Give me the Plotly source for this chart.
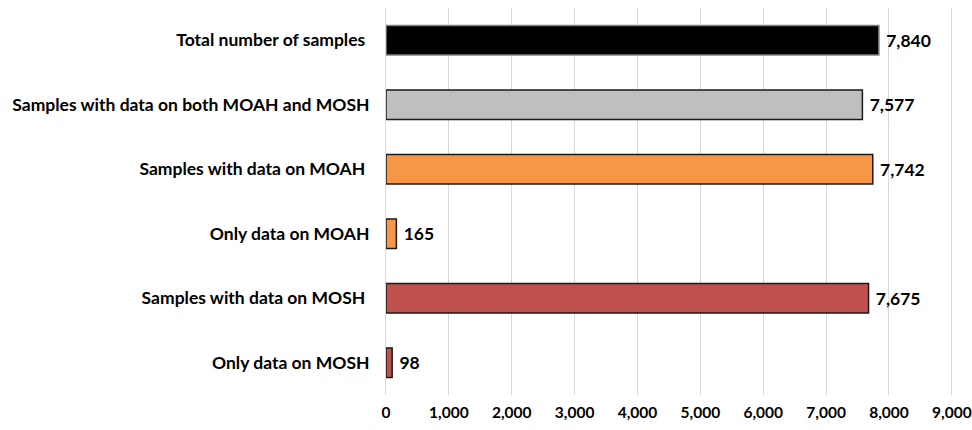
import plotly.graph_objects as go

categories = [
    "Total number of samples ",
    "Samples with data on both MOAH and MOSH",
    "Samples with data on MOAH ",
    "Only data on MOAH",
    "Samples with data on MOSH ",
    "Only data on MOSH",
]
values = [7840, 7577, 7742, 165, 7675, 98]
colors = ["#000000", "#BFBFBF", "#F79646", "#F79646", "#C0504D", "#C0504D"]
outline = ["#808080", "#1a1a1a", "#1a1a1a", "#1a1a1a", "#1a1a1a", "#1a1a1a"]
tick_vals = list(range(0, 9001, 1000))

FONT = "Lato, Calibri, Arial, sans-serif"

fig = go.Figure(
    go.Bar(
        y=categories,
        x=values,
        orientation="h",
        marker=dict(color=colors, line=dict(color=outline, width=1.5)),
        text=[f" {v:,}" for v in values],
        textposition="outside",
        textfont=dict(family=FONT, size=17.5, color="#000000", weight="bold"),
        cliponaxis=False,
    )
)

fig.update_layout(
    width=972,
    height=430,
    margin=dict(l=386, r=17, t=8, b=35),
    paper_bgcolor="white",
    plot_bgcolor="white",
    bargap=0.54,
    showlegend=False,
    font=dict(family=FONT, size=15, color="#000000", weight="bold"),
)

fig.update_xaxes(
    range=[0, 9050],
    tickvals=tick_vals,
    tickformat=",",
    showgrid=True,
    gridcolor="#D9D9D9",
    gridwidth=1,
    zeroline=False,
    showline=False,
    ticks="",
    automargin=False,
    ticklabelstandoff=6,
    ticklabeloverflow="allow",
    tickfont=dict(family=FONT, size=15.5, color="#000000", weight="bold"),
)

fig.update_yaxes(
    autorange="reversed",
    showgrid=False,
    showline=True,
    linecolor="#D9D9D9",
    ticks="",
    ticklabelstandoff=12,
    tickfont=dict(family=FONT, size=17.5, color="#000000", weight="bold"),
)

fig.write_html("out.html")
